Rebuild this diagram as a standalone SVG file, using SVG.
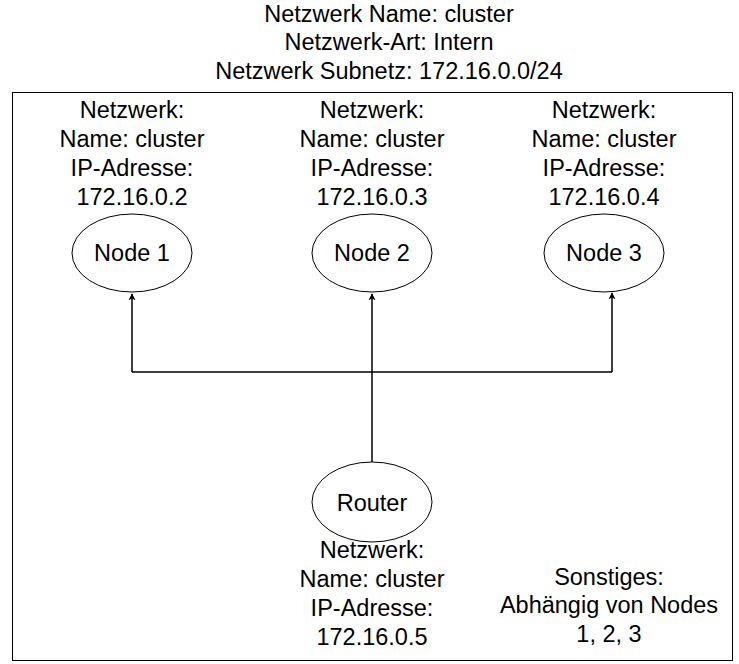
<svg xmlns="http://www.w3.org/2000/svg" width="739" height="664" viewBox="0 0 739 664">
<style>
text{font-family:"Liberation Sans",Arial,sans-serif;font-size:23.5px;fill:#000;text-anchor:middle}
.n{fill:#fff;stroke:#000;stroke-width:1}
.c{fill:none;stroke:#000;stroke-width:1.5}
</style>
<defs>
<marker id="a" viewBox="0 0 10 10" refX="9" refY="5" markerWidth="7" markerHeight="7" orient="auto" markerUnits="userSpaceOnUse">
<path d="M0,0 L10,5 L0,10 L2.5,5 z" fill="#000"/>
</marker>
</defs>
<rect width="739" height="664" fill="#fff"/>
<g id="title">
<text x="389" y="22">Netzwerk Name: cluster</text>
<text x="389" y="50">Netzwerk-Art: Intern</text>
<text x="389" y="79">Netzwerk Subnetz: 172.16.0.0/24</text>
</g>
<rect id="frame" x="12.5" y="92.5" width="720" height="568" fill="none" stroke="#000" stroke-width="1"/>
<g id="connectors">
<path class="c" d="M372,462 L372,294" marker-end="url(#a)"/>
<path class="c" d="M132,372 L612,372"/>
<path class="c" d="M132,372 L132,294" marker-end="url(#a)"/>
<path class="c" d="M612,372 L612,293" marker-end="url(#a)"/>
</g>
<g id="node1">
<ellipse class="n" cx="132" cy="253" rx="60" ry="39"/>
<text x="132" y="261">Node 1</text>
<text x="132" y="118">Netzwerk:</text>
<text x="132" y="147">Name: cluster</text>
<text x="132" y="176">IP-Adresse:</text>
<text x="132" y="205">172.16.0.2</text>
</g>
<g id="node2">
<ellipse class="n" cx="372" cy="253" rx="60" ry="39"/>
<text x="372" y="261">Node 2</text>
<text x="372" y="118">Netzwerk:</text>
<text x="372" y="147">Name: cluster</text>
<text x="372" y="176">IP-Adresse:</text>
<text x="372" y="205">172.16.0.3</text>
</g>
<g id="node3">
<ellipse class="n" cx="604" cy="253" rx="60" ry="39"/>
<text x="604" y="261">Node 3</text>
<text x="604" y="118">Netzwerk:</text>
<text x="604" y="147">Name: cluster</text>
<text x="604" y="176">IP-Adresse:</text>
<text x="604" y="205">172.16.0.4</text>
</g>
<g id="router">
<ellipse class="n" cx="372" cy="502" rx="60" ry="40"/>
<text x="372" y="511">Router</text>
<text x="372" y="558">Netzwerk:</text>
<text x="372" y="587">Name: cluster</text>
<text x="372" y="616">IP-Adresse:</text>
<text x="372" y="645">172.16.0.5</text>
</g>
<g id="notes">
<text x="609" y="585">Sonstiges:</text>
<text x="609" y="613">Abhängig von Nodes</text>
<text x="609" y="642">1, 2, 3</text>
</g>
</svg>
